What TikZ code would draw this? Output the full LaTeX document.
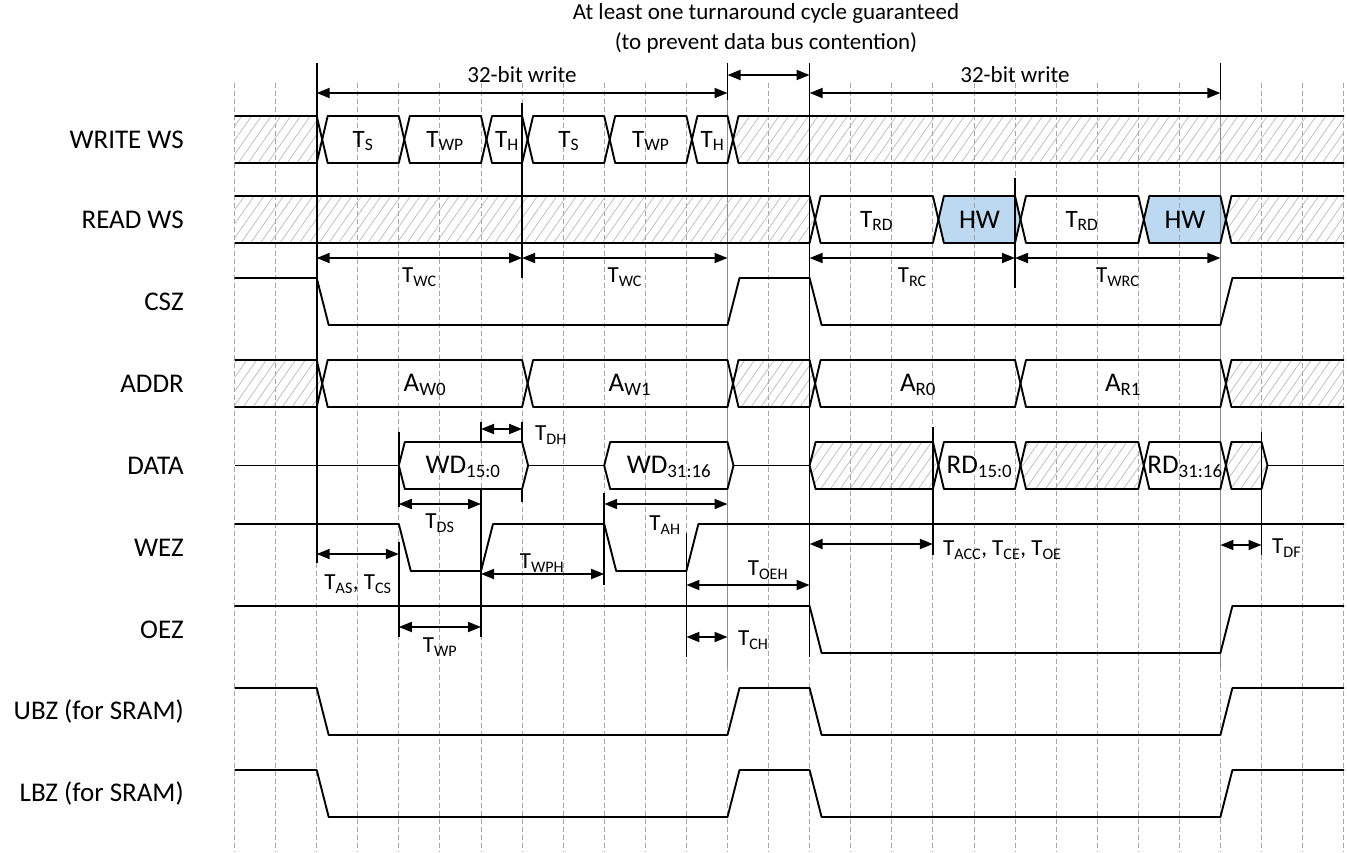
\documentclass[tikz,border=0pt]{standalone}
\usepackage{fontspec}
\setmainfont{Carlito}
\usetikzlibrary{arrows.meta,patterns.meta}
\definecolor{hwblue}{RGB}{189,217,242}
\definecolor{gridgray}{RGB}{165,165,165}
\definecolor{hatchgray}{RGB}{185,185,185}
% bus segment between two full crossings a and b, row top t
\newcommand\bmid[4]{\path[#1] (#2+5.5,#4+23.5) -- (#2+11,#4) -- (#3,#4) -- (#3+5.5,#4+23.5) -- (#3,#4+47) -- (#2+11,#4+47) -- cycle;}
% bus segment with half edges (DATA)
\newcommand\bhalf[4]{\path[#1] (#2,#4+23.5) -- (#2+6,#4) -- (#3,#4) -- (#3+6,#4+23.5) -- (#3,#4+47) -- (#2+6,#4+47) -- cycle;}
% hatched segment open on the left, ending with a crossing at b
\newcommand\bopenl[2]{\path[hatchfill] (234.5,#2) -- (#1,#2) -- (#1+5.5,#2+23.5) -- (#1,#2+47) -- (234.5,#2+47) -- cycle;
 \draw[sig] (234.5,#2) -- (#1,#2) -- (#1+5.5,#2+23.5) -- (#1,#2+47) -- (234.5,#2+47);}
% hatched segment open on the right, starting with a crossing at a
\newcommand\bopenr[2]{\path[hatchfill] (1344,#2) -- (#1+11,#2) -- (#1+5.5,#2+23.5) -- (#1+11,#2+47) -- (1344,#2+47) -- cycle;
 \draw[sig] (1344,#2) -- (#1+11,#2) -- (#1+5.5,#2+23.5) -- (#1+11,#2+47) -- (1344,#2+47);}
\newcommand\dimline[4]{\coordinate (#1a) at (#2,#4); \coordinate (#1b) at (#3,#4); \draw[dimarr] (#1a) -- (#1b);}
\begin{document}
\begin{tikzpicture}[x=1pt,y=-1pt,
  sig/.style={line width=1.9pt, line join=round},
  val/.style={draw, line width=1.9pt, line join=round},
  hatchfill/.style={pattern={Lines[angle=55,distance=8pt,line width=0.7pt]}, pattern color=hatchgray},
  hatchseg/.style={hatchfill, draw=black, line width=1.9pt, line join=round},
  gridline/.style={gridgray, line width=0.9pt, dash pattern=on 5pt off 3pt},
  vline/.style={black, line width=1.6pt},
  gline/.style={black!45, line width=1.5pt},
  dimarr/.style={line width=1.8pt, {Triangle[length=13pt,width=10pt]}-{Triangle[length=13pt,width=10pt]}},
  siglabel/.style={anchor=east, inner sep=0pt, font=\fontsize{27}{30}\selectfont},
  tlab/.style={inner sep=0pt, font=\fontsize{23}{26}\selectfont},
  btlab/.style={inner sep=0pt, font=\fontsize{25}{28}\selectfont},
  vlab/.style={inner sep=0pt, font=\fontsize{27}{30}\selectfont},
]
\useasboundingbox (0,0) rectangle (1347,852);
% blue fills first
\bmid{fill=hwblue}{932.9}{1015}{196}
\bmid{fill=hwblue}{1138.3}{1220.4}{196}
% grid
\foreach \k in {0,...,27} \draw[gridline] (234.5+41.08*\k,83) -- (234.5+41.08*\k,852);
% gray solid markers
\draw[gline] (727.5,100) -- (727.5,668);
\draw[gline] (1220.4,100) -- (1220.4,668);
% ---------- WRITE WS ----------
\bopenl{316.7}{116}
\bmid{val}{316.7}{398.8}{116}
\bmid{val}{398.8}{481}{116}
\bmid{val}{481}{522.1}{116}
\bmid{val}{522.1}{604.2}{116}
\bmid{val}{604.2}{686.4}{116}
\bmid{val}{686.4}{727.5}{116}
\bopenr{727.5}{116}
% ---------- READ WS ----------
\bopenl{809.6}{196}
\bmid{val}{809.6}{932.9}{196}
\bmid{val}{932.9}{1015}{196}
\bmid{val}{1015}{1138.3}{196}
\bmid{val}{1138.3}{1220.4}{196}
\bopenr{1220.4}{196}
% ---------- CSZ ----------
\draw[sig] (234.5,278) -- (316.7,278) -- (328.7,325) -- (727.5,325) -- (739.5,278) -- (809.6,278) -- (821.6,325) -- (1220.4,325) -- (1232.4,278) -- (1344,278);
% ---------- ADDR ----------
\bopenl{316.7}{360}
\bmid{val}{316.7}{522.1}{360}
\bmid{val}{522.1}{727.5}{360}
\bmid{hatchseg}{727.5}{809.6}{360}
\bmid{val}{809.6}{1015}{360}
\bmid{val}{1015}{1220.4}{360}
\bopenr{1220.4}{360}
% ---------- DATA ----------
\draw[sig] (234.5,465.5) -- (398.8,465.5);
\bhalf{val}{398.8}{522.1}{442}
\draw[sig] (528.1,465.5) -- (604.2,465.5);
\bhalf{val}{604.2}{727.5}{442}
\draw[sig] (733.5,465.5) -- (809.6,465.5);
\path[hatchseg] (809.6,465.5) -- (815.6,442) -- (932.9,442) -- (938.4,465.5) -- (932.9,489) -- (815.6,489) -- cycle;
\bmid{val}{932.9}{1015}{442}
\bmid{hatchseg}{1015}{1138.3}{442}
\bmid{val}{1138.3}{1220.4}{442}
\path[hatchseg] (1225.9,465.5) -- (1231.4,442) -- (1261.5,442) -- (1267.5,465.5) -- (1261.5,489) -- (1231.4,489) -- cycle;
\draw[sig] (1267.5,465.5) -- (1344,465.5);
% ---------- WEZ ----------
\draw[sig] (234.5,524) -- (398.8,524) -- (410.8,571) -- (481,571) -- (493,524) -- (604.2,524) -- (616.2,571) -- (686.4,571) -- (698.4,524) -- (1344,524);
% ---------- OEZ ----------
\draw[sig] (234.5,606) -- (809.6,606) -- (821.6,653) -- (1220.4,653) -- (1232.4,606) -- (1344,606);
% ---------- UBZ / LBZ ----------
\draw[sig] (234.5,688) -- (316.7,688) -- (328.7,735) -- (727.5,735) -- (739.5,688) -- (809.6,688) -- (821.6,735) -- (1220.4,735) -- (1232.4,688) -- (1344,688);
\draw[sig] (234.5,770) -- (316.7,770) -- (328.7,817) -- (727.5,817) -- (739.5,770) -- (809.6,770) -- (821.6,817) -- (1220.4,817) -- (1232.4,770) -- (1344,770);
% ---------- black vertical markers ----------
\draw[vline] (316.7,63) -- (316.7,563);
\draw[vline] (727.5,63) -- (727.5,100);
\draw[vline] (809.6,63) -- (809.6,657);
\draw[vline] (1220.4,63) -- (1220.4,100);
\draw[vline] (522.1,103) -- (522.1,278);
\draw[vline] (1015,178) -- (1015,288);
\draw[vline] (398.8,432) -- (398.8,507);
\draw[vline] (398.8,542) -- (398.8,637);
\draw[vline] (481,422) -- (481,442);
\draw[vline] (481,488) -- (481,637);
\draw[vline] (522.1,422) -- (522.1,442);
\draw[vline] (522.1,488) -- (522.1,502);
\draw[vline] (604.2,493) -- (604.2,585);
\draw[vline] (686.4,533) -- (686.4,657);
\draw[vline] (932.9,427) -- (932.9,555);
\draw[vline] (1261.5,432) -- (1261.5,555);
% ---------- dimension arrows ----------
\dimline{w1}{316.7}{727.5}{93}
\dimline{ta}{727.5}{809.6}{75}
\dimline{w2}{809.6}{1220.4}{93}
\dimline{wca}{316.7}{522.1}{258}
\dimline{wcb}{522.1}{727.5}{258}
\dimline{rc}{809.6}{1015}{258}
\dimline{wrc}{1015}{1220.4}{258}
\dimline{dh}{481}{522.1}{429}
\dimline{ds}{398.8}{481}{504}
\dimline{ah}{604.2}{727.5}{504}
\dimline{as}{316.7}{398.8}{554}
\dimline{wph}{481}{604.2}{574}
\dimline{wp}{398.8}{481}{627}
\dimline{oeh}{686.4}{809.6}{585}
\dimline{ch}{686.4}{727.5}{637}
\dimline{acc}{809.6}{932.9}{544}
\dimline{df}{1220.4}{1261.5}{545}
% ---------- texts ----------
\node[tlab] (tt1) at (766,13) {At least one turnaround cycle guaranteed};
\node[tlab] (tt2) at (766,43) {(to prevent data bus contention)};
\node[tlab] (wr1) at (522,75) {32-bit write};
\node[tlab] (wr2) at (1015,75) {32-bit write};
% signal names
\node[siglabel] (nWW) at (184,139.5) {WRITE WS};
\node[siglabel] (nRW) at (184,219.5) {READ WS};
\node[siglabel] (nCS) at (184,301.5) {CSZ};
\node[siglabel] (nAD) at (184,383.5) {ADDR};
\node[siglabel] (nDA) at (184,465.5) {DATA};
\node[siglabel] (nWE) at (184,547.5) {WEZ};
\node[siglabel] (nOE) at (184,629.5) {OEZ};
\node[siglabel] (nUB) at (184,711.5) {UBZ (for SRAM)};
\node[siglabel] (nLB) at (184,793.5) {LBZ (for SRAM)};
% WRITE WS labels
\node[btlab] (ws1) at (363,141) {T\textsubscript{S}};
\node[btlab] (ws2) at (445,141) {T\textsubscript{WP}};
\node[btlab] (ws3) at (507,141) {T\textsubscript{H}};
\node[btlab] (ws4) at (568.7,141) {T\textsubscript{S}};
\node[btlab] (ws5) at (650.8,141) {T\textsubscript{WP}};
\node[btlab] (ws6) at (712.5,141) {T\textsubscript{H}};
% READ WS labels
\node[btlab] (rs1) at (876.7,221) {T\textsubscript{RD}};
\node[vlab] (rs2) at (979.5,219.5) {HW};
\node[btlab] (rs3) at (1082,221) {T\textsubscript{RD}};
\node[vlab] (rs4) at (1185,219.5) {HW};
% cycle labels
\node[tlab] (lwc1) at (419.4,277) {T\textsubscript{WC}};
\node[tlab] (lwc2) at (624.8,277) {T\textsubscript{WC}};
\node[tlab] (lrc) at (912.3,277) {T\textsubscript{RC}};
\node[tlab] (lwrc) at (1117.7,277) {T\textsubscript{WRC}};
% ADDR labels
\node[vlab] (aw0) at (425,385) {A\textsubscript{W0}};
\node[vlab] (aw1) at (630,385) {A\textsubscript{W1}};
\node[vlab] (ar0) at (918,385) {A\textsubscript{R0}};
\node[vlab] (ar1) at (1123,385) {A\textsubscript{R1}};
% DATA labels
\node[vlab] (wd1) at (463,467) {WD\textsubscript{15:0}};
\node[vlab] (wd2) at (669,467) {WD\textsubscript{31:16}};
\node[vlab] (rd1) at (979.5,467) {RD\textsubscript{15:0}};
\node[vlab] (rd2) at (1185,467) {RD\textsubscript{31:16}};
% timing labels
\node[tlab,anchor=west] (ldh) at (535,435) {T\textsubscript{DH}};
\node[tlab] (lds) at (440,523) {T\textsubscript{DS}};
\node[tlab] (lah) at (665,525) {T\textsubscript{AH}};
\node[tlab] (las) at (358,584) {T\textsubscript{AS}, T\textsubscript{CS}};
\node[tlab] (lwph) at (542,563) {T\textsubscript{WPH}};
\node[tlab] (lwp) at (440,647) {T\textsubscript{WP}};
\node[tlab] (loeh) at (768,570) {T\textsubscript{OEH}};
\node[tlab,anchor=west] (lch) at (738,640) {T\textsubscript{CH}};
\node[tlab,anchor=west] (lacc) at (943,550) {T\textsubscript{ACC}, T\textsubscript{CE}, T\textsubscript{OE}};
\node[tlab,anchor=west] (ldf) at (1272,548) {T\textsubscript{DF}};
\end{tikzpicture}
\end{document}
